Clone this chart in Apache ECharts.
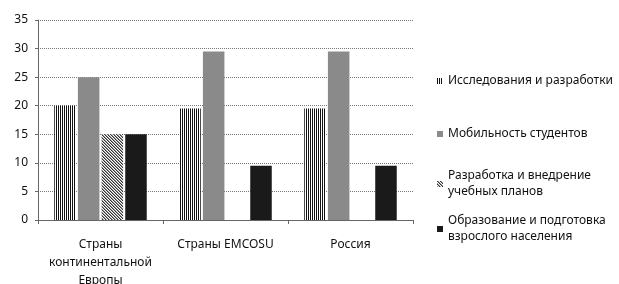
<!DOCTYPE html>
<html>
<head>
<meta charset="utf-8">
<script src="https://cdn.jsdelivr.net/npm/echarts@6/dist/echarts.min.js"></script>
<style>html,body{margin:0;padding:0;background:#fff}#chart{width:619px;height:284px}</style>
</head>
<body>
<div id="chart"></div>
<script>
// данные диаграммы
var categories = ['Страны\nконтинентальной\nЕвропы', 'Страны EMCOSU', 'Россия'];
var seriesNames = ['Исследования и разработки', 'Мобильность студентов', 'Разработка и внедрение\nучебных планов', 'Образование и подготовка\nвзрослого населения'];
var research = [20, 19.5, 19.5];
var mobility = [25, 29.5, 29.5];
var curricula = [15, null, null];
var adults = [15, 9.5, 9.5];
var yTicks = [0, 5, 10, 15, 20, 25, 30, 35];

// штриховки как у Excel
function makePattern(w, h, draw) {
	var c = document.createElement('canvas');
	c.width = w; c.height = h;
	var ctx = c.getContext('2d');
	ctx.fillStyle = '#fff';
	ctx.fillRect(0, 0, w, h);
	draw(ctx);
	return { image: c, repeat: 'repeat' };
}
var vStripes = makePattern(2, 2, function (ctx) {
	ctx.fillStyle = '#111';
	ctx.fillRect(0, 0, 1, 2);
});
var diagHatch = makePattern(3, 3, function (ctx) {
	ctx.fillStyle = '#333';
	for (var i = 0; i < 3; i++) ctx.fillRect(i, i, 1, 1);
	ctx.fillStyle = '#999';
	for (var j = 0; j < 3; j++) ctx.fillRect((j + 1) % 3, j, 1, 1);
});

var fills = [vStripes, '#8a8a8a', diagHatch, '#1a1a1a'];
var values = [research, mobility, curricula, adults];
var legendTops = [68, 121, 163, 208];

var font = 'Noto Sans';
var series = [];
var legends = [];
for (var i = 0; i < 4; i++) {
	series.push({
		name: seriesNames[i],
		type: 'bar',
		data: values[i],
		barGap: '10%',
		barCategoryGap: '26%',
		itemStyle: { color: fills[i] }
	});
	legends.push({
		data: [seriesNames[i]],
		left: 432,
		top: legendTops[i],
		orient: 'vertical',
		itemWidth: 6,
		itemHeight: 6,
		itemGap: 0,
		icon: 'rect',
		textStyle: { fontFamily: font, fontSize: 12, color: '#111', lineHeight: 16 }
	});
}

var chart = echarts.init(document.getElementById('chart'));
chart.setOption({
	animation: false,
	backgroundColor: '#fff',
	grid: { left: 38, right: 206, top: 20, bottom: 64, containLabel: false, outerBoundsMode: 'none' },
	legend: legends,
	xAxis: {
		type: 'category',
		data: categories,
		axisLine: { lineStyle: { color: '#666' } },
		axisTick: { show: true, length: 4, lineStyle: { color: '#666' } },
		axisLabel: { margin: 16, fontFamily: font, fontSize: 12, color: '#111', lineHeight: 18, interval: 0 }
	},
	yAxis: {
		type: 'value',
		min: yTicks[0],
		max: yTicks[yTicks.length - 1],
		interval: 5,
		axisLine: { show: true, lineStyle: { color: '#666' } },
		axisTick: { show: true, length: 3, lineStyle: { color: '#666' } },
		splitLine: { lineStyle: { color: '#777', type: 'dotted' } },
		axisLabel: { margin: 10, fontFamily: font, fontSize: 12, color: '#111' }
	},
	series: series
});
</script>
</body>
</html>
